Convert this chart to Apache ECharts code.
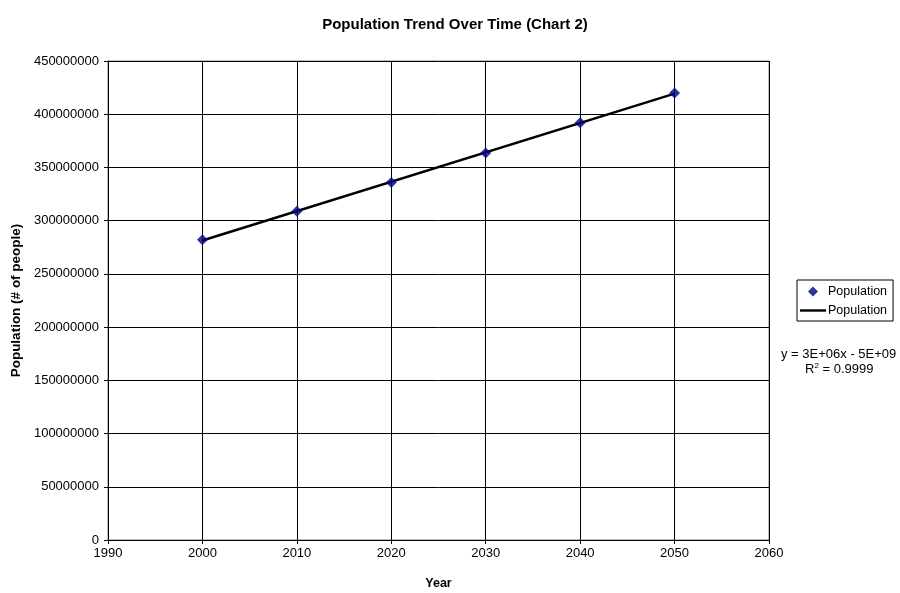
<!DOCTYPE html>
<html>
<head>
<meta charset="utf-8">
<script src="https://cdn.jsdelivr.net/npm/echarts@6/dist/echarts.min.js"></script>
<style>
  html, body { margin: 0; padding: 0; background: #fff; }
  #chart { width: 900px; height: 593px; }
</style>
</head>
<body>
<div id="chart"></div>
<script>
// Census population figures and projections
const years = [2000, 2010, 2020, 2030, 2040, 2050];
const population = [282100000, 308900000, 335800000, 363600000, 391900000, 419900000];

// Axis ranges
const xMin = 1990, xMax = 2060, xStep = 10;
const yMin = 0, yMax = 450000000, yStep = 50000000;

// Least-squares linear trend through the population points
function linearFit(xs, ys) {
  const n = xs.length;
  const mx = xs.reduce((a, b) => a + b, 0) / n;
  const my = ys.reduce((a, b) => a + b, 0) / n;
  let sxy = 0, sxx = 0, syy = 0;
  for (let i = 0; i < n; i++) {
    sxy += (xs[i] - mx) * (ys[i] - my);
    sxx += (xs[i] - mx) * (xs[i] - mx);
    syy += (ys[i] - my) * (ys[i] - my);
  }
  const slope = sxy / sxx;
  const intercept = my - slope * mx;
  return { slope, intercept, r2: (sxy * sxy) / (sxx * syy) };
}
const fit = linearFit(years, population);
const trendPoints = [years[0], years[years.length - 1]].map(x => [x, fit.slope * x + fit.intercept]);

const FONT = '"Liberation Sans", Arial, sans-serif';
const plain = v => String(v);

// Legend icons: a diamond centred in the 26px icon slot, and a short thick line
const diamondIcon = 'path://M0,5 L0.01,5 M26,5 L25.99,5 M13,0 L18,5 L13,10 L8,5 Z';
const lineIcon = 'path://M0,0 L26,0 L26,2.4 L0,2.4 Z';

const chart = echarts.init(document.getElementById('chart'), null, { renderer: 'canvas' });

chart.setOption({
  animation: false,
  backgroundColor: '#fff',
  textStyle: { fontFamily: FONT, color: '#000' },
  title: {
    text: 'Population Trend Over Time (Chart 2)',
    left: 450, top: 12, textAlign: 'center',
    textStyle: { fontFamily: FONT, fontSize: 15, fontWeight: 'bold', color: '#000' }
  },
  grid: {
    left: 108, top: 61, width: 661, height: 479,
    outerBoundsMode: 'none',
    containLabel: false,
    show: true, borderColor: '#808080', borderWidth: 1, backgroundColor: '#fff'
  },
  legend: {
    orient: 'vertical',
    left: 797, top: 280,
    padding: [5, 6, 4, 3],
    itemGap: 6,
    itemWidth: 26, itemHeight: 10,
    borderColor: '#000', borderWidth: 1,
    textStyle: { fontFamily: FONT, fontSize: 12.5, color: '#000', padding: [0, 0, 0, -3] },
    formatter: () => 'Population',
    data: [
      { name: 'Population', icon: diamondIcon },
      { name: 'Population trend', icon: lineIcon }
    ]
  },
  xAxis: {
    type: 'value', min: xMin, max: xMax, interval: xStep,
    name: 'Year', nameLocation: 'middle', nameGap: 37,
    nameTextStyle: { fontFamily: FONT, fontSize: 12.5, fontWeight: 'bold', color: '#000' },
    axisLine: { show: true, onZero: false, lineStyle: { color: '#000', width: 1 } },
    axisTick: { show: true, inside: false, length: 4, lineStyle: { color: '#000' } },
    axisLabel: { fontFamily: FONT, fontSize: 13, color: '#000', margin: 7, formatter: plain },
    splitLine: { show: true, lineStyle: { color: '#000', width: 1 } }
  },
  yAxis: {
    type: 'value', min: yMin, max: yMax, interval: yStep,
    name: 'Population (# of people)', nameLocation: 'middle', nameGap: 83, nameRotate: 90,
    nameTextStyle: { fontFamily: FONT, fontSize: 13.5, fontWeight: 'bold', color: '#000' },
    axisLine: { show: true, lineStyle: { color: '#000', width: 1 } },
    axisTick: { show: true, inside: false, length: 4, lineStyle: { color: '#000' } },
    axisLabel: { fontFamily: FONT, fontSize: 13, color: '#000', margin: 9, formatter: plain },
    splitLine: { show: true, lineStyle: { color: '#000', width: 1 } }
  },
  series: [
    {
      name: 'Population trend',
      type: 'line',
      data: trendPoints,
      showSymbol: false,
      symbol: 'none',
      lineStyle: { color: '#000', width: 2.5 },
      itemStyle: { color: '#000' },
      z: 3
    },
    {
      name: 'Population',
      type: 'scatter',
      data: years.map((y, i) => [y, population[i]]),
      symbol: 'diamond',
      symbolSize: 11,
      itemStyle: { color: '#000080' },
      z: 4
    }
  ],
  graphic: [
    {
      type: 'text', left: 781, top: 348,
      style: { text: 'y = 3E+06x - 5E+09', font: '13px ' + FONT, fill: '#000' }
    },
    {
      type: 'text', left: 805, top: 362,
      style: {
        text: 'R{sup|2} = 0.9999',
        font: '13px ' + FONT, fill: '#000',
        rich: { sup: { fontSize: 8, verticalAlign: 'top', padding: [0, 0, 6, 0], fontFamily: FONT } }
      }
    }
  ]
});
</script>
</body>
</html>
